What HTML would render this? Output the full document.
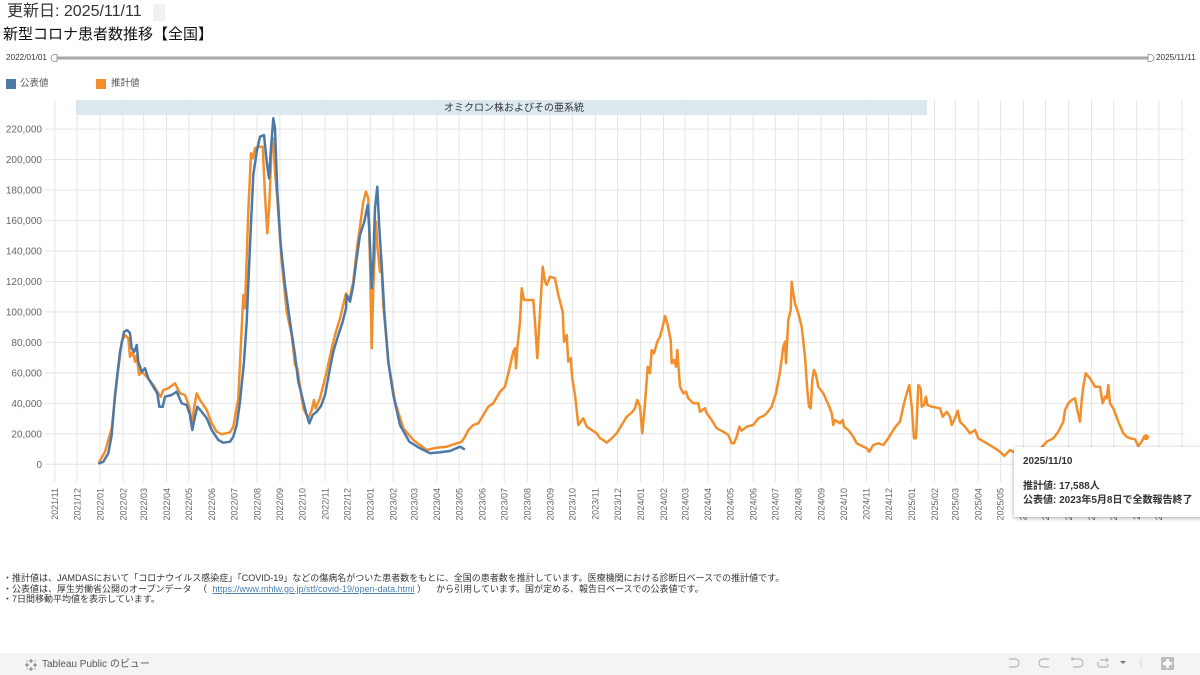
<!DOCTYPE html>
<html><head><meta charset="utf-8">
<style>
html,body{margin:0;padding:0;background:#fff;}
body{width:1200px;height:675px;position:relative;overflow:hidden;font-family:"Liberation Sans","Noto Sans CJK JP",sans-serif;}
.abs{position:absolute;white-space:nowrap;}
#hdr{left:7px;top:1px;font-size:16px;line-height:22px;color:#333;}
#hbox{left:153px;top:4px;width:12px;height:17px;background:#f1f1f1;}
#title{left:3px;top:25px;font-size:15px;line-height:20px;color:#111;}
.sl{font-size:8.2px;line-height:10px;color:#333;}
.leg{font-size:9.5px;line-height:12px;color:#555;}
.foot{left:3px;font-size:9px;line-height:11px;color:#333;}
.foot a{color:#4a7fae;text-decoration:underline;}
#bar{left:0;top:653px;width:1200px;height:22px;background:#f4f4f4;}
#tip{left:1014px;top:447px;width:200px;height:70px;background:#fff;box-shadow:0 1px 4px rgba(0,0,0,0.35);}
.tt{font-size:10px;font-weight:bold;color:#333;line-height:12px;}
</style></head><body>
<svg class="abs" style="left:0;top:0" width="1200" height="675" viewBox="0 0 1200 675">
<g stroke="#e4e4e4" stroke-width="1">
<path d="M45 464.3H1185M45 433.8H1185M45 403.4H1185M45 372.9H1185M45 342.4H1185M45 311.9H1185M45 281.5H1185M45 251H1185M45 220.5H1185M45 190H1185M45 159.5H1185M45 129.1H1185"/>
<path d="M54.8 100V482M77 100V482M100 100V482M123 100V482M143.7 100V482M166.6 100V482M188.9 100V482M211.8 100V482M234 100V482M257 100V482M279.9 100V482M302.2 100V482M325.1 100V482M347.3 100V482M370.3 100V482M393.2 100V482M414 100V482M436.9 100V482M459.1 100V482M482.1 100V482M504.3 100V482M527.3 100V482M550.2 100V482M572.4 100V482M595.4 100V482M617.6 100V482M640.6 100V482M663.5 100V482M685 100V482M707.9 100V482M730.2 100V482M753.1 100V482M775.3 100V482M798.3 100V482M821.2 100V482M843.5 100V482M866.4 100V482M888.6 100V482M911.6 100V482M934.5 100V482M955.3 100V482M978.2 100V482M1000.4 100V482M1023.4 100V482M1045.6 100V482M1068.6 100V482M1091.5 100V482M1113.8 100V482M1136.7 100V482M1158.9 100V482M1181.9 100V482"/>
</g>
<rect x="76" y="100" width="851" height="15" fill="#d6e6ed" opacity="0.85"/>
<text x="514" y="111" font-size="10" fill="#333" text-anchor="middle" font-family="Liberation Sans, Noto Sans CJK JP, sans-serif">オミクロン株およびその亜系統</text>
<g font-size="10" fill="#666" text-anchor="end" font-family="Liberation Sans, sans-serif">
<text x="42" y="467.8">0</text>
<text x="42" y="437.3">20,000</text>
<text x="42" y="406.9">40,000</text>
<text x="42" y="376.4">60,000</text>
<text x="42" y="345.9">80,000</text>
<text x="42" y="315.4">100,000</text>
<text x="42" y="285">120,000</text>
<text x="42" y="254.5">140,000</text>
<text x="42" y="224">160,000</text>
<text x="42" y="193.5">180,000</text>
<text x="42" y="163">200,000</text>
<text x="42" y="132.6">220,000</text>
</g>
<g font-size="9" fill="#666" text-anchor="end" font-family="Liberation Sans, sans-serif">
<text transform="translate(58.1 488) rotate(-90)">2021/11</text>
<text transform="translate(80.3 488) rotate(-90)">2021/12</text>
<text transform="translate(103.3 488) rotate(-90)">2022/01</text>
<text transform="translate(126.3 488) rotate(-90)">2022/02</text>
<text transform="translate(147 488) rotate(-90)">2022/03</text>
<text transform="translate(169.9 488) rotate(-90)">2022/04</text>
<text transform="translate(192.2 488) rotate(-90)">2022/05</text>
<text transform="translate(215.1 488) rotate(-90)">2022/06</text>
<text transform="translate(237.3 488) rotate(-90)">2022/07</text>
<text transform="translate(260.3 488) rotate(-90)">2022/08</text>
<text transform="translate(283.2 488) rotate(-90)">2022/09</text>
<text transform="translate(305.5 488) rotate(-90)">2022/10</text>
<text transform="translate(328.4 488) rotate(-90)">2022/11</text>
<text transform="translate(350.6 488) rotate(-90)">2022/12</text>
<text transform="translate(373.6 488) rotate(-90)">2023/01</text>
<text transform="translate(396.5 488) rotate(-90)">2023/02</text>
<text transform="translate(417.3 488) rotate(-90)">2023/03</text>
<text transform="translate(440.2 488) rotate(-90)">2023/04</text>
<text transform="translate(462.4 488) rotate(-90)">2023/05</text>
<text transform="translate(485.4 488) rotate(-90)">2023/06</text>
<text transform="translate(507.6 488) rotate(-90)">2023/07</text>
<text transform="translate(530.6 488) rotate(-90)">2023/08</text>
<text transform="translate(553.5 488) rotate(-90)">2023/09</text>
<text transform="translate(575.7 488) rotate(-90)">2023/10</text>
<text transform="translate(598.7 488) rotate(-90)">2023/11</text>
<text transform="translate(620.9 488) rotate(-90)">2023/12</text>
<text transform="translate(643.9 488) rotate(-90)">2024/01</text>
<text transform="translate(666.8 488) rotate(-90)">2024/02</text>
<text transform="translate(688.3 488) rotate(-90)">2024/03</text>
<text transform="translate(711.2 488) rotate(-90)">2024/04</text>
<text transform="translate(733.5 488) rotate(-90)">2024/05</text>
<text transform="translate(756.4 488) rotate(-90)">2024/06</text>
<text transform="translate(778.6 488) rotate(-90)">2024/07</text>
<text transform="translate(801.6 488) rotate(-90)">2024/08</text>
<text transform="translate(824.5 488) rotate(-90)">2024/09</text>
<text transform="translate(846.8 488) rotate(-90)">2024/10</text>
<text transform="translate(869.7 488) rotate(-90)">2024/11</text>
<text transform="translate(891.9 488) rotate(-90)">2024/12</text>
<text transform="translate(914.9 488) rotate(-90)">2025/01</text>
<text transform="translate(937.8 488) rotate(-90)">2025/02</text>
<text transform="translate(958.6 488) rotate(-90)">2025/03</text>
<text transform="translate(981.5 488) rotate(-90)">2025/04</text>
<text transform="translate(1003.7 488) rotate(-90)">2025/05</text>
<text transform="translate(1026.7 488) rotate(-90)">2025/06</text>
<text transform="translate(1048.9 488) rotate(-90)">2025/07</text>
<text transform="translate(1071.9 488) rotate(-90)">2025/08</text>
<text transform="translate(1094.8 488) rotate(-90)">2025/09</text>
<text transform="translate(1117.1 488) rotate(-90)">2025/10</text>
<text transform="translate(1140 488) rotate(-90)">2025/11</text>
<text transform="translate(1162.2 488) rotate(-90)">2025/12</text>
</g>
<polyline fill="none" stroke="#f28e2b" stroke-width="2.5" stroke-linejoin="round" stroke-linecap="round" points="99.3,461.7 105,451.7 111.7,428.3 116.7,381.7 121.7,341.7 125,335 128.3,338.3 130,356.7 132.7,351.7 135,361.7 136.7,355 139,375 141.7,371.7 146.7,376.7 153.3,385 157.3,391.7 160.7,396.7 163.3,390 168.3,388.3 175,383.3 180,393.3 185,395 189.3,406.7 191.7,425 194,408.3 196.7,393.3 200,400 206.7,410 211.7,423.3 216.7,431.7 221.7,434.3 230,432.3 233.3,426.7 238.3,398.3 243.3,295 245,308.3 248.3,211.7 251,153.3 252.7,158.3 255,148.3 258.3,146.7 262.7,146.7 265,195 267.3,233.3 269.3,205 271.7,145 273.3,138.3 275,171.7 277.3,198.3 281.7,261.7 286.7,311.7 291.7,335 295,365 297.3,368.3 299.3,381.7 303.3,408.3 308.3,418.3 311.7,410 314,400 315.7,408.3 320,398.3 326.7,371.7 331.7,348.3 335,335 340,318.3 346,293.3 349.3,300 353.3,281.7 357.3,245 359.3,231.7 363.3,201.7 366,191.7 368.3,198.3 370,261.7 371.7,348.3 373.3,288.3 376,221.7 377.3,245 380,271.7 381,255 383.3,305 388.3,361.7 395,401.7 403.3,428.3 413.3,440 420,445 426.7,450 436.7,447.7 446.7,446.7 456.7,443.3 461.7,441.7 465,436.7 468.3,430 473.3,425 478.3,423.3 483.3,415 488.3,406.7 493.3,403.3 500,391.7 505,386.7 508.3,373.3 513.3,351.7 515,348.3 516,368.3 517.3,348.3 520,321.7 521.7,288.3 524,300 533.3,300 535,321.7 537.3,358.3 540,311.7 542.7,266.7 545,281.7 546.7,285 550,276.7 555,278.3 558.3,295 562.7,311.7 564,341.7 566.7,335 568.3,361.7 570.7,358.3 572.3,378.3 575,395 578.3,425 583.3,418.3 586.7,426.7 596.7,433.3 600,438.3 603.3,440 606.7,442.7 611.7,438.3 616.7,433.3 621.7,425 626.7,416.7 631.7,412.7 635,408.3 637.3,400 640,406.7 642.3,433.3 645,403.3 647.7,366.7 650,373.3 651.7,350 654,353.3 657.3,341.7 660,336.7 662.7,326.7 665,316 667.3,323.3 670.7,340 671.7,363.3 674,360 676,366.7 677.3,350 680,386.7 683.3,393.3 686,391.7 688.3,398.3 693.3,403.3 698.3,403.3 700,411.7 705,408.3 706.7,413.3 711.7,420 716.7,428.3 723.3,431.7 728.3,435 731.7,443.3 734,443.3 736.7,436.7 739.3,426.7 741.7,430.7 746.7,426.7 753.3,425 758.3,418.3 763.3,416 766.7,413.3 771.7,406.7 776,393.3 780,371.7 783.3,346.7 785,341.7 786,363.3 788.3,320 790.7,310 791.7,281.7 793.3,293.3 795,303.3 798.3,313.3 801.7,326.7 805,356.7 807.3,390 809,406.7 810.7,408.3 812.3,380 814,370 816,375 818.3,386.7 823.3,393.3 829.3,406.7 831.7,413.3 833.3,425 835,420 840,423.3 842.7,420 844,426.7 848.3,430 853.3,436.7 856.7,443.3 860,445 866.7,448.3 869.3,451.7 873.3,445 878.3,443.3 883.3,445 888.3,438.3 892,432 896,426 900,421.7 903.3,406.7 906.7,393.3 909.3,385 911.7,406.7 914,438.3 916,438.3 918.3,385 920.7,388.3 921.7,406.7 924,405 926,396.7 927.3,405 931.7,406.7 940,408.3 942.7,416.7 946.7,411.7 950,416.7 951.7,425 955,418.3 957.7,410.7 960,421.7 965,426.7 970,433.3 975,430 978.3,438.3 986.7,443.3 995,448.3 1000,451.7 1004.3,456 1010,450 1013.3,451.7 1020,455 1030,455 1038,450 1041.7,447.3 1046.7,441.7 1053.3,438.3 1058.3,431.7 1060,428.3 1063.3,421.7 1065,410 1068.3,403.3 1071.7,400 1075,398.3 1077.3,410 1080,421.7 1081.7,400 1083.3,386.7 1085.7,373.3 1090,378.3 1095,386.7 1100,386.7 1102.7,403.3 1105,396.7 1106.7,398.3 1108.3,385 1110,403.3 1113.3,408.3 1118.3,421.7 1123.3,433.3 1126.7,436.7 1130,438.3 1135,439.3 1138.3,446 1141.7,441.7 1144,436.7 1146,437.3"/>
<circle cx="1146" cy="437.3" r="3" fill="#f28e2b"/>
<polyline fill="none" stroke="#4e79a7" stroke-width="2.5" stroke-linejoin="round" stroke-linecap="round" points="99.3,463.3 103.3,461.7 108.3,453.3 111.7,435 115,395 120,351.7 124,331.7 127.3,330 130,333.3 131.7,348.3 134.3,351.7 136.7,345 138.3,361.7 141.7,371.7 145,368.3 148.3,378.3 153.3,386.7 157.3,393.3 159.3,406.7 162.7,406.7 165,396.7 171.7,395 176.7,391.7 181.7,403.3 186.7,405 190,415 192.3,430 195,416.7 197.3,406.7 201.7,411.7 206.7,418.3 211.7,430 218.3,440 223.3,442.7 230,441.7 233.3,436.7 236.7,425 240,401.7 244,361.7 246.7,321.7 250,245 253.3,175 256.7,151.7 260,136.7 264,135 266.7,161.7 269,178.3 271,148.3 273.3,118.3 275,128.3 277.3,191.7 280.7,245 285,285 290,321.7 295,355 298.3,381.7 301.7,395 305.7,411.7 309.3,423.3 312.7,415 316.7,411.7 321,406 325,395 330,368.3 333.3,351.7 338.3,335 342.7,321.7 346,308.3 346.7,295 350,301.7 353.3,285 356.7,258.3 360,235 364.3,221.7 367.7,205 369.3,228.3 371.7,288.3 373.3,261.7 375,208.3 377.3,186.7 379.3,228.3 381.7,265 384.3,311.7 388.3,361.7 393.3,395 400,425 409.3,441.7 420,448.3 430,453.3 440,452.3 450,451 460,446.7 464,449"/>
<line x1="57" y1="58" x2="1148" y2="58" stroke="#a9a9a9" stroke-width="3"/>
<path d="M57 54.5H54.5A3.5 3.5 0 0 0 54.5 61.5H57Z" fill="#fff" stroke="#888" stroke-width="0.8"/>
<path d="M1148 54.5H1150.5A3.5 3.5 0 0 1 1150.5 61.5H1148Z" fill="#fff" stroke="#888" stroke-width="0.8"/>
<rect x="6" y="79" width="10" height="10" fill="#4e79a7"/>
<rect x="96" y="79" width="10" height="10" fill="#f28e2b"/>
</svg>

<div class="abs" id="hdr">更新日: 2025/11/11</div>
<div class="abs" id="hbox"></div>
<div class="abs" id="title">新型コロナ患者数推移【全国】</div>
<div class="abs sl" style="left:6px;top:53px;">2022/01/01</div>
<div class="abs sl" style="left:1156px;top:53px;color:#333;">2025/11/11</div>
<div class="abs leg" style="left:20px;top:78px;">公表値</div>
<div class="abs leg" style="left:111px;top:78px;">推計値</div>

<div class="abs foot" style="top:573px;">・推計値は、JAMDASにおいて「コロナウイルス感染症」「COVID-19」などの傷病名がついた患者数をもとに、全国の患者数を推計しています。医療機関における診断日ベースでの推計値です。</div>
<div class="abs foot" style="top:584px;">・公表値は、厚生労働省公開のオープンデータ <span style="margin-left:4px">（</span> <a style="margin-left:3px">https://www.mhlw.go.jp/stf/covid-19/open-data.html</a> <span>）</span><span style="margin-left:10px">から引用しています。国が定める、報告日ベースでの公表値です。</span></div>
<div class="abs foot" style="top:594px;">・7日間移動平均値を表示しています。</div>

<div class="abs" id="tip"></div>
<div class="abs tt" style="left:1023px;top:456px;">2025/11/10</div>
<div class="abs tt" style="left:1023px;top:481px;">推計値: 17,588人</div>
<div class="abs tt" style="left:1023px;top:495px;">公表値: 2023年5月8日で全数報告終了</div>

<div class="abs" id="bar"></div>
<svg class="abs" style="left:24px;top:658px" width="14" height="14" viewBox="0 0 14 14" stroke="#777" stroke-width="1" fill="none">
<path d="M7 1V5M5 3H9M7 9V13M5 11H9M1 7H5M3 5V9M9 7H13M11 5V9M3 2.5V3.5M11 2.5V3.5M3 10.5V11.5M11 10.5V11.5"/>
</svg>
<div class="abs" style="left:42px;top:659px;font-size:10px;line-height:12px;color:#555;">Tableau Public のビュー</div>
<svg class="abs" style="left:1000px;top:655px" width="200" height="20" viewBox="0 0 200 20" fill="none" stroke="#b5b5b5" stroke-width="1.2">
<path d="M9 4H15A4 4 0 0 1 15 12H9"/>
<path d="M49 4H43A4 4 0 0 0 43 12H49"/>
<path d="M72 4H79A4 4 0 0 1 79 12H73M72 2V6M74 3L72 4"/>
<path d="M100 5H108M106 3L108 5L106 7M98 7V10A2 2 0 0 0 100 12H106A2 2 0 0 0 108 10V9"/>
<path d="M120 6L126 6L123 9Z" fill="#777" stroke="none"/>
<path d="M141 3V13" stroke="#ddd"/>
<rect x="162" y="3" width="11" height="11" stroke="#999"/>
<path d="M164 7V5H166M171 7V5H169M164 10V12H166M171 10V12H169" stroke="#999"/>
</svg>
</body></html>
